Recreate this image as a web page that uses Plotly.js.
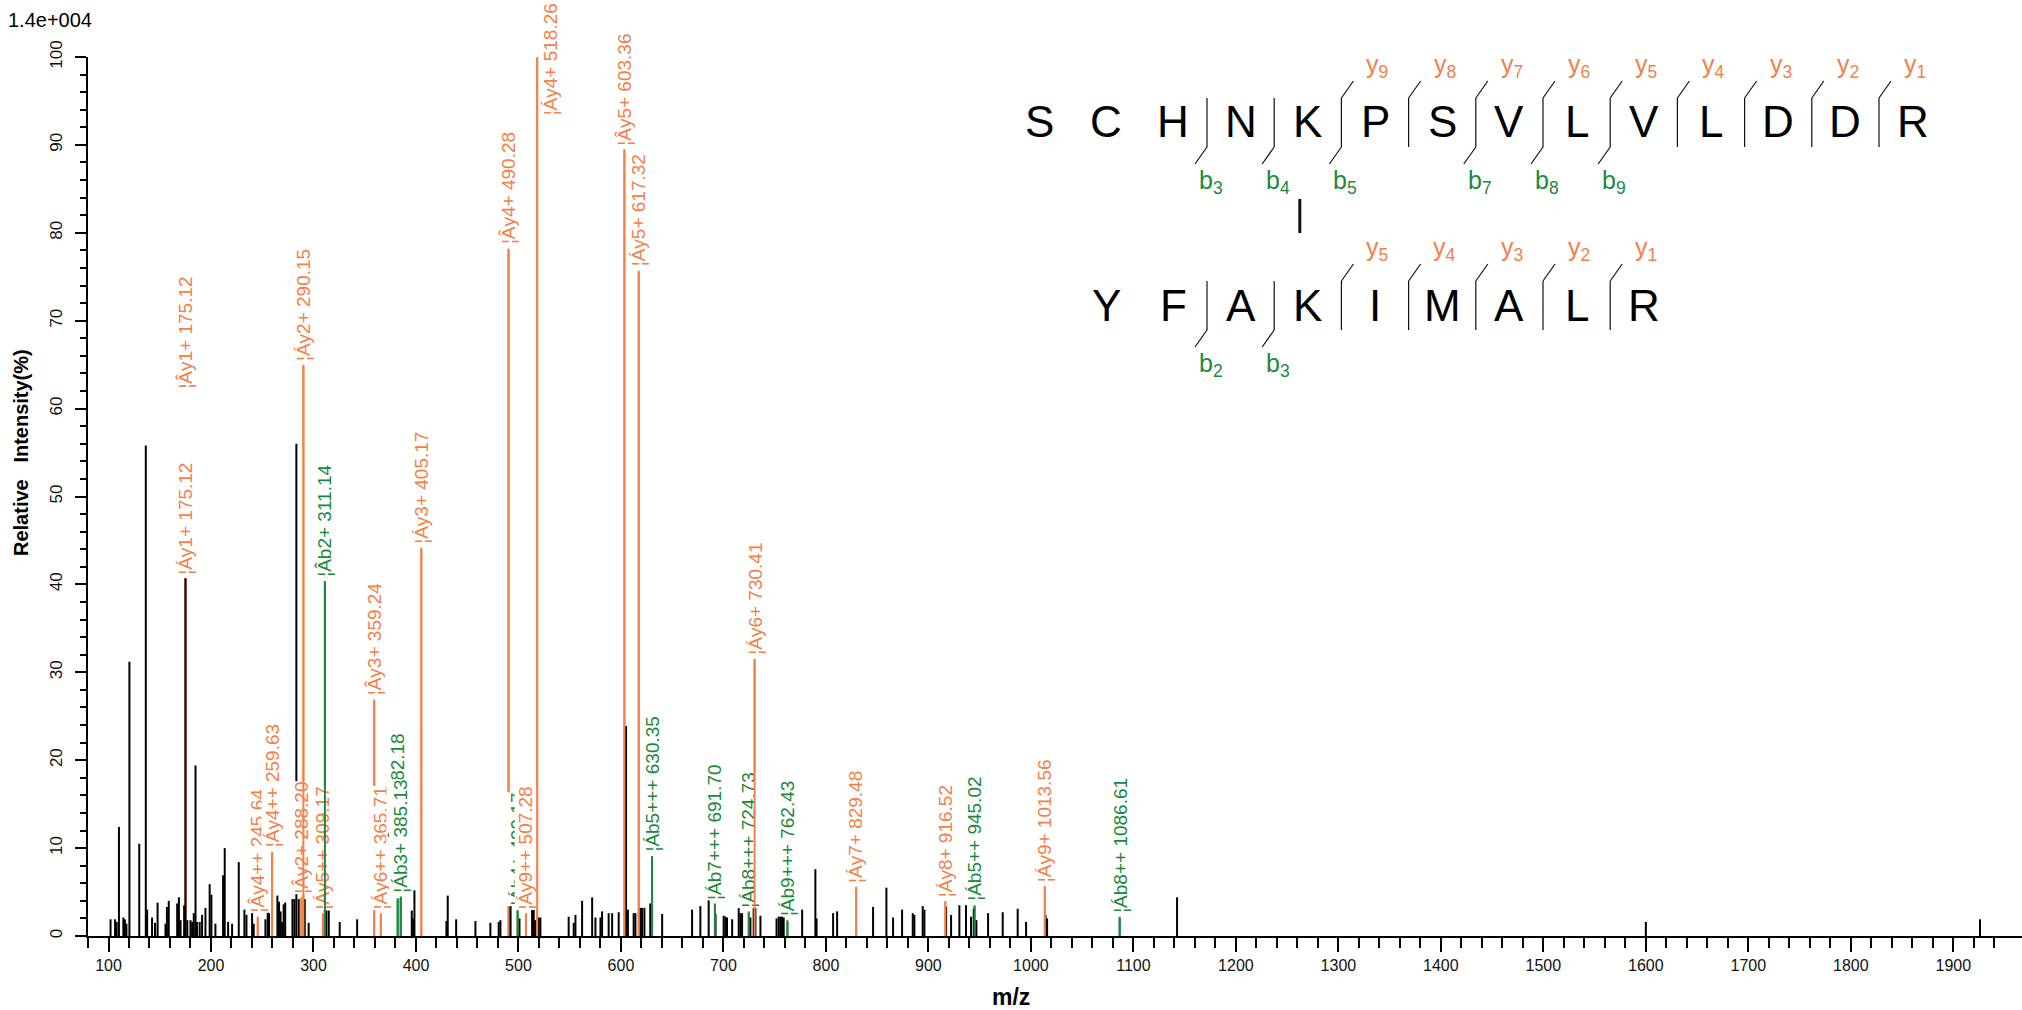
<!DOCTYPE html>
<html>
<head>
<meta charset="utf-8">
<script src="https://cdn.plot.ly/plotly-3.0.1.min.js"></script>
<style>
  html, body { margin: 0; padding: 0; background: #ffffff; }
  #chart { width: 2022px; height: 1010px; }
</style>
</head>
<body>
<div id="chart"></div>
<script>
// ---------------- DATA ----------------
// unannotated (black) peaks: m/z and relative intensity (%)
const peakMz = [102.0,106.4,108.0,110.2,114.5,116.0,117.5,120.4,130.0,136.4,137.7,142.5,145.4,147.9,155.6,157.0,158.8,167.0,168.7,170.3,173.8,175.12,176.9,180.0,181.6,183.2,184.9,186.4,189.0,191.3,194.6,198.7,200.4,204.3,211.8,213.4,216.7,220.6,227.1,232.6,234.6,240.1,241.7,253.1,255.3,256.6,264.8,266.4,267.9,269.4,270.9,272.4,279.5,281.4,283.3,285.6,291.5,295.3,312.6,314.9,325.6,342.6,395.9,397.2,398.5,429.7,431.0,439.2,458.0,472.6,480.7,482.4,490.9,492.3,501.0,513.3,514.9,516.2,519.8,521.4,549.0,553.9,555.6,562.1,571.9,575.1,580.0,581.6,588.0,591.4,597.8,605.0,606.8,612.4,614.1,619.0,620.6,622.9,628.6,640.2,669.4,677.5,685.6,692.3,700.2,701.9,703.5,708.5,714.9,716.6,718.2,726.3,729.5,731.2,736.1,751.8,753.9,755.6,757.2,758.8,776.8,789.7,790.9,807.0,810.9,846.0,859.0,865.5,874.3,884.7,886.3,894.4,896.1,917.3,922.1,930.2,936.7,941.6,944.2,946.8,958.2,972.5,987.1,995.3,1014.3,1015.8,1142.6,1600.0,1926.0];
const peakInt = [1.9,1.9,1.6,12.4,2.1,1.9,1.4,31.2,10.5,55.8,3.0,2.1,1.5,3.8,1.4,3.3,4.0,3.7,4.4,1.8,3.5,40.7,1.8,1.8,1.6,2.6,19.4,1.6,1.6,2.4,3.2,5.9,4.7,1.4,6.9,10.0,1.6,1.4,8.4,3.0,2.4,2.6,1.4,1.9,2.8,2.6,4.6,3.9,2.8,1.6,3.6,3.8,4.2,4.2,56.0,4.2,4.2,1.5,2.9,2.9,1.6,1.9,2.9,2.0,5.2,1.7,4.6,1.9,1.7,1.5,1.6,1.8,4.8,4.1,2.0,3.0,3.0,1.8,2.1,2.1,2.2,1.5,2.4,4.0,4.4,2.1,2.1,2.8,2.6,2.6,2.7,23.9,3.0,2.6,2.6,3.2,3.2,3.2,3.7,2.5,3.0,3.4,4.2,2.5,2.3,2.2,2.1,1.9,3.2,2.6,2.6,2.1,3.3,3.2,2.3,2.0,3.0,2.4,4.3,2.1,3.0,7.6,2.0,2.6,2.8,3.3,5.5,2.1,3.0,2.6,2.4,3.4,3.0,3.3,2.4,3.5,3.5,2.2,3.1,1.8,2.6,2.7,3.1,1.6,2.4,2.0,4.4,1.6,1.9];

// matched fragment ions
const ionName = ["¦Áy1+","¦Ây1+","¦Ây4++","¦Áy4++","¦Ây2+","¦Áy2+","¦Áy5++","¦Âb2+","¦Ây3+","¦Áy6++","¦Âb3+","¦Áb3+","¦Áy3+","¦Ây4+","¦Áb4+","¦Áy9++","¦Áy4+","¦Ây5+","¦Áy5+","¦Áb5+++","¦Áb7+++","¦Áb8+++","¦Áy6+","¦Áb9+++","¦Áy7+","¦Áy8+","¦Áb5++","¦Áy9+","¦Áb8++"];
const ionMz   = [175.12,175.12,245.64,259.63,288.20,290.15,309.17,311.14,359.24,365.71,382.18,385.13,405.17,490.28,499.17,507.28,518.26,603.36,617.32,630.35,691.70,724.73,730.41,762.43,829.48,916.52,945.02,1013.56,1086.61];
const ionInt  = [40.7,40.7,2.2,9.6,4.4,65.0,2.6,40.4,26.9,2.6,4.3,4.5,44.2,78.2,3.0,2.6,100.0,89.5,75.7,9.1,3.7,2.8,31.5,1.8,5.6,4.0,3.5,5.7,2.2];
const ionKind = ["y","y","y","y","y","y","y","b","y","y","b","b","y","y","b","y","y","y","y","b","b","b","y","b","y","y","b","y","b"];

// axis tick labels
const xTickVals = [100,200,300,400,500,600,700,800,900,1000,1100,1200,1300,1400,1500,1600,1700,1800,1900];
const yTickVals = [0,10,20,30,40,50,60,70,80,90,100];

// peptide sequences of the cross-linked pair
const seqAlpha = ["S","C","H","N","K","P","S","V","L","V","L","D","D","R"];
const seqBeta  = ["Y","F","A","K","I","M","A","L","R"];
const alphaY = [9,8,7,6,5,4,3,2,1];
const alphaB = [3,4,5,7,8,9];
const betaY  = [5,4,3,2,1];
const betaB  = [2,3];
const linkAlpha = 5, linkBeta = 4;   // cross-linked K (1-based)

const scaleLabel = "1.4e+004";

// ---------------- STYLE / GEOMETRY ----------------
const W = 2022, H = 1010;
const M = {l: 88, r: 0, t: 57, b: 74};
const PW = W - M.l - M.r, PH = H - M.t - M.b;
const PX_PER_MZ = 1.0249;
const XR = [80, 80 + PW / PX_PER_MZ];
const ORANGE = "rgb(244,128,74)";
const GREEN = "rgb(26,138,58)";
const FONT = "Liberation Sans, Arial, sans-serif";
const LABEL_SIZE = 19;

const px2x = px => (px - M.l) / PW;
const px2y = py => (H - M.b - py) / PH;

// ---------------- TRACES ----------------
function stems(mz, it) {
  const x = [], y = [];
  for (let i = 0; i < mz.length; i++) { x.push(mz[i], mz[i], null); y.push(0, it[i], null); }
  return {x, y};
}
const oIdx = ionKind.map((k, i) => k === "y" ? i : -1).filter(i => i >= 0);
const gIdx = ionKind.map((k, i) => k === "b" ? i : -1).filter(i => i >= 0);
const oSt = stems(oIdx.map(i => ionMz[i]), oIdx.map(i => ionInt[i]));
const gSt = stems(gIdx.map(i => ionMz[i]), gIdx.map(i => ionInt[i]));
const kSt = stems(peakMz, peakInt);

const traces = [
  {x: oSt.x, y: oSt.y, mode: "lines", line: {color: ORANGE, width: 2}, hoverinfo: "skip", showlegend: false, cliponaxis: false},
  {x: gSt.x, y: gSt.y, mode: "lines", line: {color: GREEN, width: 2}, hoverinfo: "skip", showlegend: false, cliponaxis: false},
  {x: kSt.x, y: kSt.y, mode: "lines", line: {color: "#000000", width: 2}, hoverinfo: "skip", showlegend: false, cliponaxis: false}
];

// ---------------- ION LABELS (stacking + top clamp) ----------------
const ctx = document.createElement("canvas").getContext("2d");
ctx.font = LABEL_SIZE + "px 'Liberation Sans'";
const xpx = m => (m - XR[0]) / (XR[1] - XR[0]) * PW;
const ypx = v => v / 100 * PH;
const TOP_LIMIT = H - M.b - 2;           // px above the x axis where the canvas ends
const annotations = [];
const order = ionMz.map((m, i) => i).sort((a, b) => ionMz[b] - ionMz[a] || a - b);
const placed = [];
const labelShift = {}, labelXShift = {};
order.forEach(i => {
  const text = ionName[i] + " " + ionMz[i].toFixed(2);
  const len = ctx.measureText(text).width + 2;
  const x = xpx(ionMz[i]);
  let base = ypx(ionInt[i]) + 3;
  let moved = true;
  while (moved) {
    moved = false;
    for (const p of placed) {
      const dx = Math.abs(p.x - x);
      if (dx < 0.5) {            // same peak: stack clearly above
        if (base < p.top + 72 && base + len > p.base) { base = p.top + 72; moved = true; }
      } else if (dx < 8) {       // near neighbour: partly overlapped
        const need = p.base + 0.4 * len;
        if (base < need && base + len > p.base) { base = need; moved = true; }
      }
    }
  }
  let xs = 0;
  if (base + len > TOP_LIMIT) { base = TOP_LIMIT - len; xs = 13; }
  placed.push({x, base, top: base + len});
  labelShift[i] = base - ypx(ionInt[i]);
  labelXShift[i] = xs;
});
const blackSet = new Set(peakMz.map(v => v.toFixed(2)));
const ascending = ionMz.map((m, i) => i).sort((a, b) => ionMz[a] - ionMz[b] || a - b);
ascending.forEach(i => {
  const col = ionKind[i] === "y" ? ORANGE : GREEN;
  if (!blackSet.has(ionMz[i].toFixed(2))) {
    // the stem, drawn in m/z order so that later stems cross earlier labels
    annotations.push({x: ionMz[i], y: 0, xref: "x", yref: "y", ax: ionMz[i], ay: ionInt[i], axref: "x", ayref: "y",
      text: "", showarrow: true, arrowhead: 0, arrowwidth: 2, arrowcolor: col, standoff: 0, startstandoff: 0});
  }
  annotations.push({
    x: ionMz[i], y: ionInt[i], xref: "x", yref: "y", showarrow: false,
    text: ionName[i] + " " + ionMz[i].toFixed(2), textangle: -90,
    xanchor: "center", yanchor: "bottom", yshift: labelShift[i], xshift: labelXShift[i],
    borderpad: 0, bgcolor: "#ffffff",
    font: {family: FONT, size: LABEL_SIZE, color: col}
  });
});

// ---------------- SEQUENCE DIAGRAM ----------------
const SEQ_X0 = 1039, SEQ_STEP = 67.2, ROW_Y = [122, 305];
const shapes = [];
function seqLine(x0, y0, x1, y1, w) {
  shapes.push({type: "line", xref: "paper", yref: "paper", x0: px2x(x0), y0: px2y(y0), x1: px2x(x1), y1: px2y(y1),
               line: {color: "#111111", width: w || 1.2}});
}
function drawRow(seq, yIons, bIons, rowY, off) {
  const L = seq.length;
  seq.forEach((aa, k) => {
    annotations.push({xref: "paper", yref: "paper", x: px2x(SEQ_X0 + (off + k) * SEQ_STEP), y: px2y(rowY),
      text: aa, showarrow: false, xanchor: "center", yanchor: "middle",
      font: {family: FONT, size: 44, color: "#000000"}});
  });
  const top = rowY - 24, bot = rowY + 25;
  const bounds = new Set();
  yIons.forEach(n => bounds.add(L - n));
  bIons.forEach(n => bounds.add(n));
  bounds.forEach(k => {
    const x = SEQ_X0 + (off + k - 0.5) * SEQ_STEP;
    seqLine(x, top, x, bot);
  });
  yIons.forEach(n => {
    const x = SEQ_X0 + (off + (L - n) - 0.5) * SEQ_STEP;
    seqLine(x, top, x + 12, top - 17);
    annotations.push({xref: "paper", yref: "paper", x: px2x(x + 36), y: px2y(top - 32), showarrow: false,
      text: "y<sub>" + n + "</sub>", xanchor: "center", yanchor: "middle",
      font: {family: FONT, size: 25, color: ORANGE}});
  });
  bIons.forEach(n => {
    const x = SEQ_X0 + (off + n - 0.5) * SEQ_STEP;
    seqLine(x, bot, x - 12, bot + 17);
    annotations.push({xref: "paper", yref: "paper", x: px2x(x + 4), y: px2y(bot + 35), showarrow: false,
      text: "b<sub>" + n + "</sub>", xanchor: "center", yanchor: "middle",
      font: {family: FONT, size: 25, color: GREEN}});
  });
}
drawRow(seqAlpha, alphaY, alphaB, ROW_Y[0], 0);
drawRow(seqBeta, betaY, betaB, ROW_Y[1], linkAlpha - linkBeta);
const linkX = SEQ_X0 + (linkAlpha - 1) * SEQ_STEP - 8;
seqLine(linkX, 199, linkX, 233, 3);

// ---------------- OTHER TEXT ----------------
annotations.push({xref: "paper", yref: "paper", x: px2x(6), y: px2y(20), xanchor: "left", yanchor: "middle",
  showarrow: false, text: scaleLabel, font: {family: FONT, size: 20, color: "#000000"}});
annotations.push({xref: "paper", yref: "paper", x: px2x(1011), y: px2y(997), xanchor: "center", yanchor: "middle",
  showarrow: false, text: "<b>m/z</b>", font: {family: FONT, size: 23, color: "#000000"}});
annotations.push({xref: "paper", yref: "paper", x: px2x(21), y: px2y(453), xanchor: "center", yanchor: "middle",
  showarrow: false, textangle: -90, text: "<b>Relative\u00a0\u00a0\u00a0Intensity(%)</b>",
  font: {family: FONT, size: 20, color: "#000000"}});

// minor ticks
const xMinor = [], yMinor = [];
for (let v = 80; v <= 1940; v += 20) if (v % 100 !== 0) xMinor.push(v);
for (let v = 2; v < 100; v += 2) if (v % 10 !== 0) yMinor.push(v);

const layout = {
  width: W, height: H,
  margin: M,
  paper_bgcolor: "#ffffff", plot_bgcolor: "#ffffff",
  showlegend: false,
  font: {family: FONT, color: "#000000"},
  xaxis: {
    range: XR, showgrid: false, zeroline: false,
    showline: true, linecolor: "#000000", linewidth: 2,
    ticks: "outside", tickmode: "array", tickvals: xTickVals, ticktext: xTickVals.map(String),
    ticklen: 14, tickwidth: 2, tickcolor: "#000000",
    tickfont: {family: FONT, size: 16, color: "#111111"},
    minor: {tickmode: "array", tickvals: xMinor, ticks: "outside", ticklen: 10, tickwidth: 2, tickcolor: "#000000", showgrid: false}
  },
  yaxis: {
    range: [0, 100], showgrid: false, zeroline: false,
    showline: true, linecolor: "#000000", linewidth: 2,
    ticks: "outside", tickmode: "array", tickvals: yTickVals, ticktext: yTickVals.map(String),
    ticklen: 11, tickwidth: 2, tickcolor: "#000000", tickangle: -90,
    ticklabelstandoff: 6,
    tickfont: {family: FONT, size: 17, color: "#111111"},
    minor: {tickmode: "array", tickvals: yMinor, ticks: "outside", ticklen: 6, tickwidth: 2, tickcolor: "#000000", showgrid: false}
  },
  annotations: annotations,
  shapes: shapes
};

Plotly.newPlot("chart", traces, layout, {staticPlot: true, displayModeBar: false});
</script>
</body>
</html>
